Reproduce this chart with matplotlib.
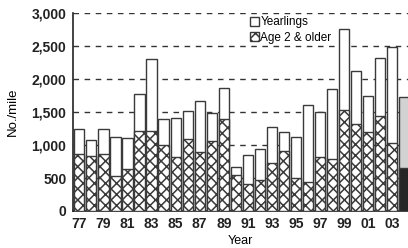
import matplotlib
matplotlib.use("Agg")
import matplotlib.pyplot as plt
from matplotlib.patches import Patch

years = list(range(77, 105))
total = [1247, 1080, 1242, 1121, 1111, 1777, 2308, 1394, 1409, 1510,
         1672, 1480, 1859, 667, 853, 934, 1273, 1192, 1121, 1601,
         1505, 1844, 2753, 2126, 1737, 2318, 2480, 1722]
age2 = [859, 833, 859, 525, 641, 1212, 1212, 995, 823, 1090,
        889, 1065, 1389, 545, 404, 470, 723, 914, 500, 434,
        823, 788, 1530, 1318, 1202, 1444, 1025, 656]
tick_years = list(range(77, 104, 2))
tick_labels = ["77", "79", "81", "83", "85", "87", "89", "91", "93", "95",
               "97", "99", "01", "03"]
yticks = [0, 500, 1000, 1500, 2000, 2500, 3000]
ytick_labels = ["0", "500", "1,000", "1,500", "2,000", "2,500", "3,000"]

plt.rcParams['font.family'] = ['Liberation Sans', 'DejaVu Sans']
plt.rcParams['hatch.linewidth'] = 1.1
plt.rcParams['hatch.color'] = '#2a2a2a'

fig = plt.figure(figsize=(4.08, 2.48), dpi=100)
ax = fig.add_axes([72.7 / 408, 37 / 248, 1 - 72.7 / 408, 198 / 248])

w = 0.85
edge = '#3a3a3a'
for i, yr in enumerate(years):
    last = (i == len(years) - 1)
    top_c = '#d2d2d2' if last else 'white'
    bot_c = '#262626' if last else 'white'
    ax.bar(yr, total[i], width=w, color=top_c, edgecolor=edge, linewidth=1.0, zorder=2)
    ax.bar(yr, age2[i], width=w, color=bot_c, edgecolor=edge, linewidth=1.0,
           hatch=None if last else 'xxx', zorder=3)

ax.set_xlim(76.45, 104.3)
ax.set_ylim(0, 3000)
ax.set_yticks(yticks)
ax.set_yticklabels(ytick_labels, fontsize=10, fontweight='bold')
ax.set_xticks(tick_years)
ax.set_xticklabels(tick_labels, fontsize=10, fontweight='bold')
ax.tick_params(axis='both', length=0, colors='#222222')
ax.tick_params(axis='x', pad=4)
ax.tick_params(axis='y', pad=4.5)
for yv in yticks[1:]:
    ax.axhline(yv, color='#333333', linestyle=(0, (4, 4)), linewidth=1.0, zorder=1)
for s in ['top', 'right']:
    ax.spines[s].set_visible(False)
for s in ['left', 'bottom']:
    ax.spines[s].set_color('#222222')
    ax.spines[s].set_linewidth(1.2)

ax.set_xlabel('Year', fontsize=9, labelpad=3)
ax.set_ylabel('No./mile', fontsize=9.5, labelpad=9)

handles = [Patch(facecolor='white', edgecolor=edge, label='Yearlings'),
           Patch(facecolor='white', edgecolor=edge, hatch='xxx', label='Age 2 & older')]
leg = ax.legend(handles=handles, loc='upper left', bbox_to_anchor=(0.505, 1.025),
                frameon=False, fontsize=8.5, handlelength=0.75, handleheight=0.75,
                handletextpad=0.1, labelspacing=0.3, borderpad=0.2)
leg.set_zorder(5)

fig.savefig('out.png', dpi=100)
